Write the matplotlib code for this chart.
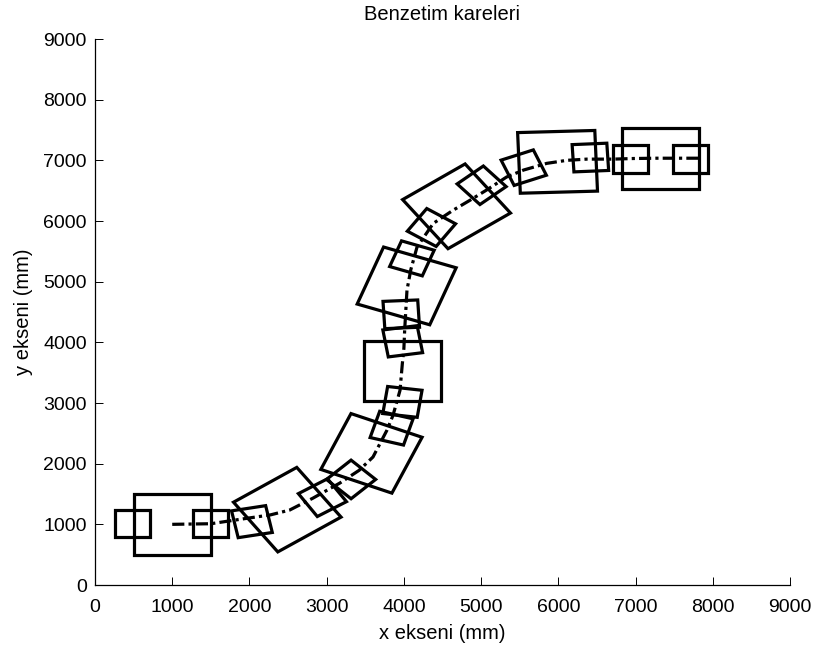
import matplotlib.pyplot as plt
from matplotlib.patches import Rectangle

# Path followed by the vehicle (mm)
path_x = [1000, 1500, 1970, 2270, 2520, 2820, 3170, 3420, 3600, 3780, 3860, 3950,
          3980, 4000, 4010, 4040, 4090, 4170, 4380, 4640, 4860, 5070, 5330, 5550,
          5850, 6110, 6370, 6710, 6970, 7270, 7580, 7850]
path_y = [1000, 1010, 1100, 1155, 1235, 1430, 1680, 1890, 2110, 2550, 2800, 3210,
          3650, 3900, 4200, 4860, 5200, 5570, 5960, 6180, 6345, 6510, 6725, 6840,
          6950, 7000, 7020, 7020, 7030, 7035, 7035, 7035]

# Body frames: centre (mm) and heading (deg)
body_x = [1000, 2490, 3580, 3985, 4036, 4682, 5990, 7323]
body_y = [1000, 1242, 2170, 3530, 4930, 6242, 6975, 7035]
body_ang = [0, 35, 67, 0, 70, 36, 2, 0]
body_size = 1000

# Wheel frames: centre (mm) and heading (deg)
wheel_x = [490, 1495, 2032, 2945, 3316, 3841, 3981, 3985,
           3966, 4104, 4357, 5007, 5552, 6415, 6933, 7710]
wheel_y = [1008, 1008, 1044, 1440, 1740, 2585, 3018, 4017,
           4462, 5384, 5893, 6589, 6879, 7046, 7024, 7024]
wheel_ang = [0, 0, 11, 33, 45, 74, 82, 99, 93, 70, 56, 41, 22, 3, 0, 0]
wheel_size = 450


def add_square(ax, cx, cy, size, ang):
    ax.add_patch(Rectangle((cx - size / 2, cy - size / 2), size, size, angle=ang,
                           rotation_point='center', fill=False, ec='k', lw=2.3))


def main():
    plt.rcParams['font.family'] = 'Liberation Sans'
    fig = plt.figure(figsize=(8.16, 6.45), dpi=100)
    ax = fig.add_axes([95 / 816, 60 / 645, 695 / 816, 546 / 645])

    ax.plot(path_x, path_y, color='k', lw=2.3, linestyle=(0, (3.8, 1.3, 1.0, 1.3)),
            dash_capstyle='butt')

    for cx, cy, a in zip(body_x, body_y, body_ang):
        add_square(ax, cx, cy, body_size, a)
    for cx, cy, a in zip(wheel_x, wheel_y, wheel_ang):
        add_square(ax, cx, cy, wheel_size, a)

    ax.set_xlim(0, 9000)
    ax.set_ylim(0, 9000)
    ax.set_xticks(range(0, 9001, 1000))
    ax.set_yticks(range(0, 9001, 1000))
    ax.spines['top'].set_visible(False)
    ax.spines['right'].set_visible(False)
    for s in ['left', 'bottom']:
        ax.spines[s].set_linewidth(0.9)
    ax.tick_params(direction='in', length=5.5, width=0.7, labelsize=14)
    ax.tick_params(axis='x', pad=10)
    ax.tick_params(axis='y', pad=6)

    ax.set_title('Benzetim kareleri', fontsize=14.5, pad=14)
    ax.set_xlabel('x ekseni (mm)', fontsize=14.5, labelpad=6)
    ax.set_ylabel('y ekseni (mm)', fontsize=14.5, labelpad=7)

    fig.savefig('out.png', dpi=100)
    plt.close()


if __name__ == '__main__':
    main()
